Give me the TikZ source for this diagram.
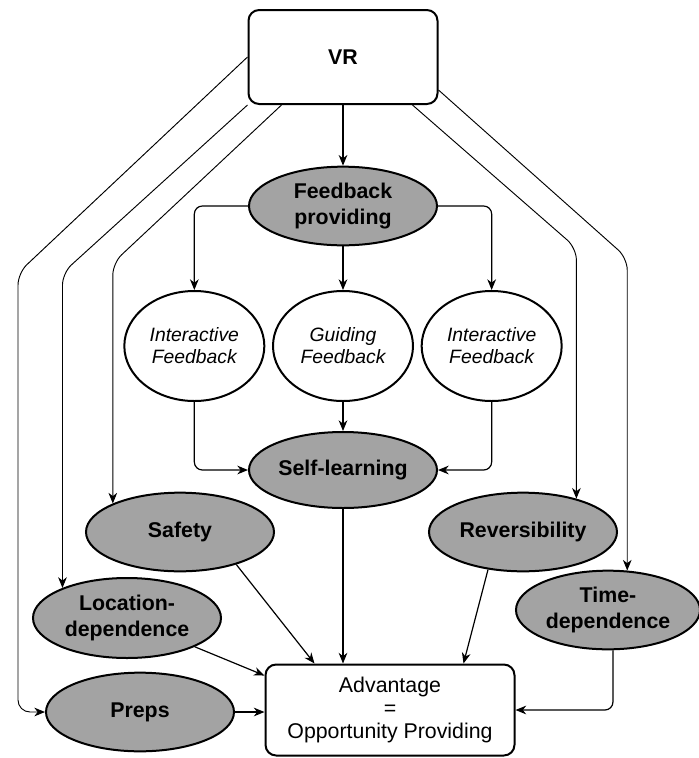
\documentclass[tikz,border=0pt]{standalone}
\usepackage{fontspec}
\setmainfont{Liberation Sans}
\usepackage{xcolor}
\definecolor{ovalgray}{RGB}{163,163,163}
\usepackage{tikz}
\usetikzlibrary{shapes.geometric, arrows.meta, positioning, calc}

\begin{document}
\begin{tikzpicture}[x=0.75pt, y=-0.75pt,
      box/.style={rectangle, rounded corners=8pt, draw=black, line width=1.5pt,
                  fill=white, align=center, inner sep=0pt},
      oval/.style={ellipse, draw=black, line width=1.5pt, fill=ovalgray,
                   minimum width=141pt, minimum height=59pt, inner sep=0pt,
                   align=center, font=\fontsize{16}{19}\selectfont\bfseries},
      bubble/.style={ellipse, draw=black, line width=1.5pt, fill=white,
                     minimum width=105pt, minimum height=82.5pt, inner sep=0pt,
                     align=center, font=\fontsize{14.5}{16.5}\selectfont\itshape},
      arr/.style={-{Stealth[length=8pt,width=6.5pt,inset=2.5pt]}, line width=0.9pt,
                  rounded corners=6pt},
      vrarr/.style={arr, line width=0.7pt, rounded corners=9pt},
      node distance=5pt
    ]
    \useasboundingbox (0,0) rectangle (699,758);

    % top and feedback branch
    \node[box, minimum width=141.75pt, minimum height=70.5pt,
          font=\fontsize{16}{19}\selectfont\bfseries] (vr) at (343,57) {VR};
    \node[oval] (fbp) at (343,206) {Feedback\\providing};
    \node[bubble] (gf) at (343,346) {Guiding\\Feedback};
    \node[bubble, left=of gf]  (ia1) {Interactive\\Feedback};
    \node[bubble, right=of gf] (ia2) {Interactive\\Feedback};
    \node[oval, minimum height=57pt] (self) at (343,470) {Self-learning};

    % side factors
    \node[oval] (safety) at (180,532) {Safety};
    \node[oval] (rev)    at (523,532) {Reversibility};
    \node[oval, minimum height=60pt] (loc) at (127,618) {Location-\\dependence};
    \node[oval, minimum width=138pt] (time) at (608,610) {Time-\\dependence};
    \node[oval] (preps)  at (140,712) {Preps};

    \node[box, minimum width=186.75pt, minimum height=68.25pt,
          font=\fontsize{16}{17.6}\selectfont] (adv) at (390,710)
          {Advantage\\=\\Opportunity Providing};

    \draw[arr] (vr) -- (fbp);
    \draw[arr] (fbp.west) -| (ia1.north);
    \draw[arr] (fbp) -- (gf);
    \draw[arr] (fbp.east) -| (ia2.north);
    \draw[arr] (ia1.south) |- (self.west);
    \draw[arr] (gf) -- (self);
    \draw[arr] (ia2.south) |- (self.east);

    % lines leaving VR
    \draw[vrarr] (vr.west) -- (18,273) |- (preps.west);
    \draw[vrarr] (vr.south west) -- (loc.155 |- 0,273) -- (loc.155);
    \draw[vrarr] ($(vr.south west)+(34,0)$) -- (safety.157 |- 0,263) -- (safety.157);
    \draw[vrarr] ($(vr.south east)+(-26,0)$) -- (rev.32 |- 0,248) -- (rev.32);
    \draw[vrarr] ($(vr.east)+(0,33)$) -- (time.64 |- 0,258) -- (time.64);

    % into the advantage box
    \draw[arr] (self.south) -- (self.south |- adv.north);
    \draw[arr] (safety.-30) -- ($(adv.north west)+(50,0)$);
    \draw[arr] (loc.-23) -- ($(adv.north west)+(0,12)$);
    \draw[arr] (preps) -- (preps -| adv.west);
    \draw[arr] (rev.-133) -- ($(adv.north east)+(-52,0)$);
    \draw[arr] (time.-83) |- (adv.east);
  \end{tikzpicture}
\end{document}
